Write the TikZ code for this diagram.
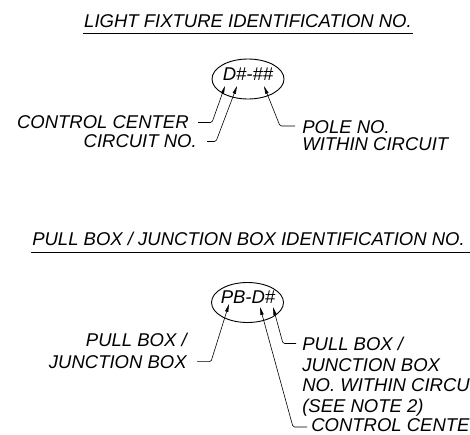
\documentclass[tikz,border=0pt]{standalone}
\usepackage{fontspec}
\setmainfont{Liberation Sans}
\usetikzlibrary{arrows.meta, positioning, calc, shapes.geometric}

\begin{document}
\begin{tikzpicture}[x=1pt, y=-1pt, >={Triangle[length=8pt, width=3.2pt]},
          line width=0.6pt,
          idtext/.style={font=\fontsize{18.5}{#1}\selectfont\itshape,
            inner sep=0pt},
          idtext/.default=20.5,
          idoval/.style={ellipse, draw, line width=0.9pt, minimum width=72pt,
            minimum height=40pt, inner sep=0pt},
          leader/.style={->, rounded corners=1.5pt},
          rule/.style={line width=1.3pt}]
        \useasboundingbox (0,0) rectangle (470,434);
        % light fixture
        \node[idtext] (lftitle) at (248,21.5) {LIGHT FIXTURE IDENTIFICATION NO.};
        \draw[rule] ([shift={(-1,5.5)}]lftitle.base west)
              -- ([shift={(1,5.5)}]lftitle.base east);
        \node[idoval] (lfoval) at (248,79) {};
        \node[idtext] (lfid) at (248,74) {D\#-\#\#};
        \coordinate (lfcc) at (225,86);
        \coordinate (lfck) at (237,86);
        \coordinate (lfpl) at (264,86);
        \node[idtext, anchor=east] (lfccl) at (189,122.5) {CONTROL CENTER};
        \node[idtext, anchor=east] (lfckl) at (197,141.5) {CIRCUIT NO.};
        \node[idtext=17, anchor=north west, align=left] (lfpll) at (302,120)
              {POLE NO.\\WITHIN CIRCUIT};
        \draw[leader] ([xshift=9pt]lfccl.east) -- ++(14,0) -- (lfcc);
        \draw[leader] ([xshift=10pt]lfckl.east) -- ++(9,0) -- (lfck);
        \draw[leader] ([shift={(-7,6)}]lfpll.north west) -- ++(-15,0) -- (lfpl);
        % pull box / junction box
        \node[idtext] (pbtitle) at (248.5,238.5)
              {PULL BOX / JUNCTION BOX IDENTIFICATION NO.};
        \draw[rule] ([shift={(-1,7.5)}]pbtitle.base west)
              -- ([shift={(5,7.5)}]pbtitle.base east);
        \node[idoval] (pboval) at (247.5,302.5) {};
        \node[idtext] (pbid) at (248,297) {PB-D\#};
        \coordinate (pbpb) at (229,304);
        \coordinate (pbcc) at (260,307);
        \coordinate (pbno) at (273,307);
        \node[idtext=21.5, anchor=north east, align=right] (pbpbl) at (187,333)
              {PULL BOX /\\JUNCTION BOX};
        \node[idtext, anchor=north west, align=left] (pbnol) at (302,337)
              {PULL BOX /\\JUNCTION BOX\\NO. WITHIN CIRCUIT\\(SEE NOTE 2)};
        \node[idtext, anchor=base west] (pbccl) at (311,431) {CONTROL CENTER};
        \draw[leader] ([shift={(10,-7)}]pbpbl.south east) -- ++(14,0) -- (pbpb);
        \draw[leader] ([shift={(-6,6.5)}]pbnol.north west) -- ++(-13,0) -- (pbno);
        \draw[leader] ([shift={(-4,-4)}]pbccl.base west) -- ++(-14,0) -- (pbcc);
      \end{tikzpicture}
\end{document}
